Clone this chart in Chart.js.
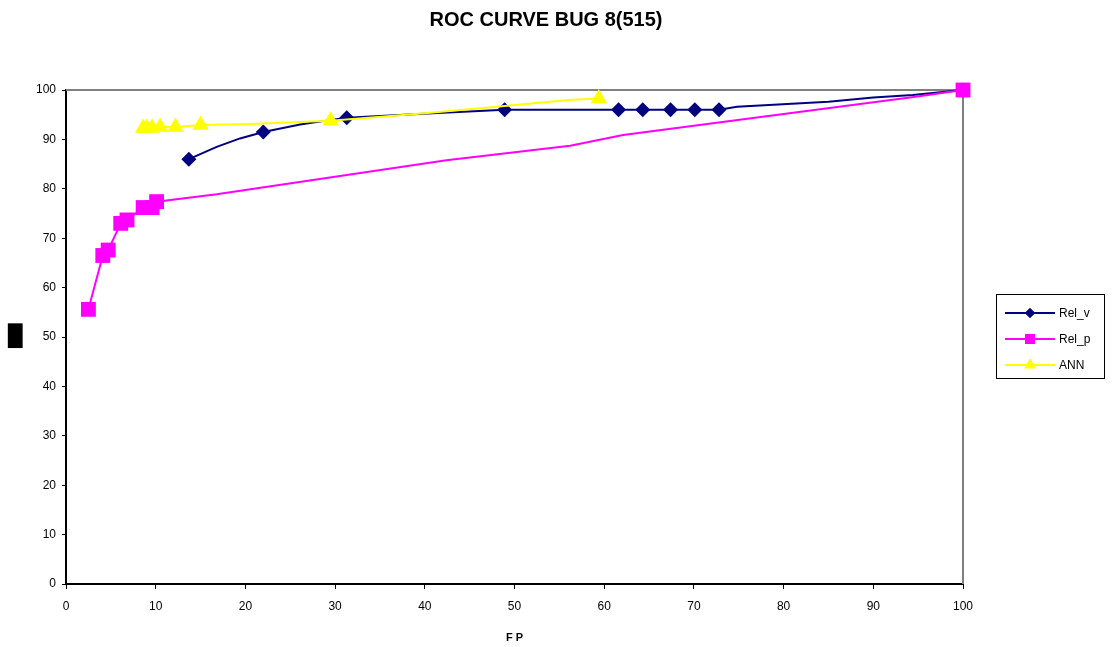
<!DOCTYPE html>
<html lang="en">
<head>
<meta charset="UTF-8">
<title>ROC CURVE BUG 8(515)</title>
<script src="https://cdn.jsdelivr.net/npm/chart.js"></script>
<style>
  html, body { margin: 0; padding: 0; background: #fff; }
  #wrap { width: 1112px; height: 647px; position: relative; }
</style>
</head>
<body>
<div id="wrap"><canvas id="roc"></canvas></div>
<script>
  // values (FP on x, TP on y); marks = 1 where a marker is shown
  const chartTitle = 'ROC CURVE BUG 8(515)';
  const seriesNames = ['Rel_v', 'Rel_p', 'ANN'];
  const relVx = [13.7, 16.8, 19.4, 22.0, 26.1, 29.4, 31.3, 40.9, 48.9, 61.6, 64.3, 67.4, 70.1, 72.8, 74.8, 85.0, 90.0, 94.4, 100];
  const relVy = [86.0, 88.5, 90.2, 91.5, 93.0, 93.9, 94.4, 95.3, 96.0, 96.0, 96.0, 96.0, 96.0, 96.0, 96.6, 97.6, 98.5, 99.0, 100];
  const relVmarks = [1, 0, 0, 1, 0, 0, 1, 0, 1, 1, 1, 1, 1, 1, 0, 0, 0, 0, 1];
  const relPx = [2.5, 4.1, 4.7, 6.1, 6.8, 8.6, 9.6, 10.1, 16.8, 42.4, 56.2, 62.1, 94.5, 100];
  const relPy = [55.6, 66.5, 67.6, 73.0, 73.7, 76.2, 76.2, 77.4, 78.9, 85.8, 88.7, 90.9, 98.6, 100];
  const relPmarks = [1, 1, 1, 1, 1, 1, 1, 1, 0, 0, 0, 0, 0, 1];
  const annX = [8.6, 9.0, 9.6, 10.5, 12.2, 15.0, 20.5, 29.5, 40.0, 48.0, 56.0, 59.4];
  const annY = [92.3, 92.3, 92.3, 92.5, 92.5, 92.9, 93.1, 93.8, 95.3, 96.6, 98.0, 98.3];
  const annMarks = [1, 1, 1, 1, 1, 1, 0, 1, 0, 0, 0, 1];
  const xTicks = [0, 10, 20, 30, 40, 50, 60, 70, 80, 90, 100];
  const yTicks = [0, 10, 20, 30, 40, 50, 60, 70, 80, 90, 100];

  const FONT = "'Liberation Sans', Arial, sans-serif";

  function pts(xs, ys) {
    return xs.map((x, i) => ({ x: x, y: ys[i] }));
  }
  function radii(marks, r) {
    return marks.map(m => m ? r : 0);
  }

  const styles = [
    { color: '#000080', shape: 'rectRot', r: 7.5, lr: 5 },
    { color: '#FF00FF', shape: 'rect', r: 10.5, lr: 7 },
    { color: '#FFFF00', shape: 'triangle', r: 9.5, lr: 6.5 }
  ];

  // title, plot frame (grey top/right), legend box, y title glyph
  const decorations = {
    id: 'decorations',
    beforeDatasetsDraw(chart) {
      const { ctx, chartArea: a } = chart;
      ctx.save();
      ctx.strokeStyle = '#808080';
      ctx.lineWidth = 2;
      ctx.beginPath();
      ctx.moveTo(a.left, a.top);
      ctx.lineTo(a.right, a.top);
      ctx.lineTo(a.right, a.bottom);
      ctx.stroke();
      ctx.restore();
    },
    afterDraw(chart) {
      const ctx = chart.ctx;
      ctx.save();
      ctx.fillStyle = '#000';
      ctx.font = 'bold 20px ' + FONT;
      ctx.textAlign = 'center';
      ctx.textBaseline = 'middle';
      ctx.fillText(chartTitle, 546, 20);
      ctx.textAlign = 'left';

      // legend
      const bx = 996.5, by = 294.5, bw = 108, bh = 84;
      ctx.strokeStyle = '#000';
      ctx.lineWidth = 1;
      ctx.strokeRect(bx, by, bw, bh);
      const rows = [313, 339, 365];
      ctx.font = '12px ' + FONT;
      seriesNames.forEach((name, i) => {
        const s = styles[i];
        ctx.strokeStyle = s.color;
        ctx.lineWidth = 2;
        ctx.beginPath();
        ctx.moveTo(1005, rows[i]);
        ctx.lineTo(1055, rows[i]);
        ctx.stroke();
        ctx.fillStyle = s.color;
        Chart.helpers.drawPoint(ctx, { pointStyle: s.shape, radius: s.lr, rotation: 0, borderWidth: 0 }, 1030, rows[i]);
        ctx.fill();
        ctx.fillStyle = '#000';
        ctx.fillText(name, 1059, rows[i] + 1);
      });

      // y axis title shows as a filled box in the reference
      ctx.font = '20px "DejaVu Sans"';
      const m = ctx.measureText('\u2588');
      const gw = m.actualBoundingBoxRight + m.actualBoundingBoxLeft;
      const gh = m.actualBoundingBoxAscent + m.actualBoundingBoxDescent;
      ctx.translate(7, 329);
      ctx.scale(16 / gw, 25 / gh);
      ctx.fillStyle = '#000';
      ctx.textBaseline = 'alphabetic';
      ctx.fillText('\u2588', m.actualBoundingBoxLeft, m.actualBoundingBoxAscent);
      ctx.restore();
    }
  };

  const datasets = [
    { label: seriesNames[0], data: pts(relVx, relVy), pointRadius: radii(relVmarks, styles[0].r), order: 3 },
    { label: seriesNames[1], data: pts(relPx, relPy), pointRadius: radii(relPmarks, styles[1].r), order: 2 },
    { label: seriesNames[2], data: pts(annX, annY), pointRadius: radii(annMarks, styles[2].r), order: 1 }
  ].map((d, i) => Object.assign(d, {
    borderColor: styles[i].color,
    backgroundColor: styles[i].color,
    pointBackgroundColor: styles[i].color,
    pointBorderColor: styles[i].color,
    pointBorderWidth: 0,
    pointStyle: styles[i].shape,
    pointHoverRadius: 0,
    borderWidth: 2,
    showLine: true,
    tension: 0,
    fill: false,
    clip: false
  }));

  new Chart(document.getElementById('roc'), {
    type: 'scatter',
    data: { datasets: datasets },
    options: {
      responsive: true,
      maintainAspectRatio: false,
      animation: false,
      events: [],
      layout: { padding: { left: 0, right: 149, top: 90, bottom: 0 } },
      plugins: {
        legend: { display: false },
        tooltip: { enabled: false },
        title: { display: false }
      },
      scales: {
        x: {
          type: 'linear',
          min: 0, max: 100,
          afterBuildTicks: s => { s.ticks = xTicks.map(v => ({ value: v })); },
          afterFit: s => { s.height = 63; },
          grid: { drawOnChartArea: false, drawTicks: true, tickLength: 5, color: '#000' },
          border: { color: '#000', width: 2 },
          ticks: { color: '#000', font: { family: FONT, size: 12 }, padding: 10, maxRotation: 0 },
          title: { display: true, text: 'F P', color: '#000', font: { family: FONT, size: 11, weight: 'bold' }, padding: { top: 12, bottom: 2 } }
        },
        y: {
          type: 'linear',
          min: 0, max: 100,
          afterBuildTicks: s => { s.ticks = yTicks.map(v => ({ value: v })); },
          afterFit: s => { s.width = 66; },
          grid: { drawOnChartArea: false, drawTicks: true, tickLength: 4, color: '#000' },
          border: { color: '#000', width: 2 },
          ticks: { color: '#000', font: { family: FONT, size: 12 }, padding: 6 }
        }
      }
    },
    plugins: [decorations]
  });
</script>
</body>
</html>
